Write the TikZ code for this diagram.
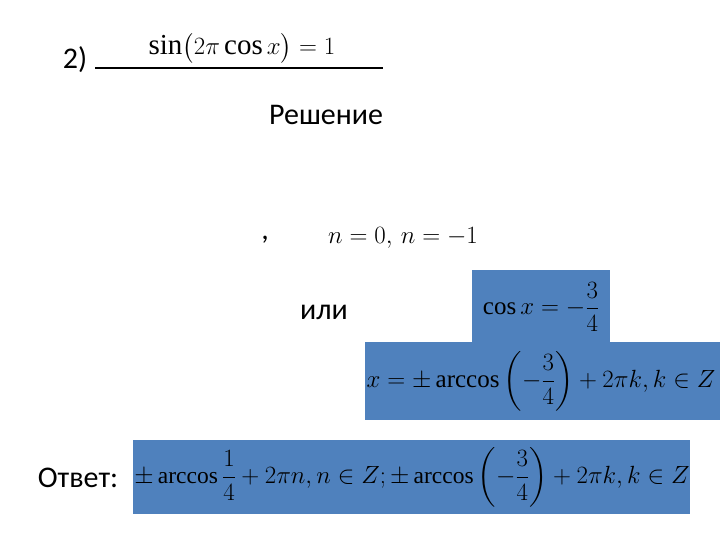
\documentclass[tikz,border=0pt]{standalone}
\usepackage{amsmath}
\usepackage{fontspec}
\setmainfont{Liberation Serif}
\newfontfamily\carlitofont{Carlito}
\begin{document}
\begin{tikzpicture}[x=1pt,y=-1pt]
\tikzset{txt/.style={inner sep=0pt,font=\carlitofont\fontsize{30}{34}\selectfont},
 mth/.style={inner sep=0pt,font=\fontsize{25}{29}\selectfont},
 bluebox/.style={fill={rgb,255:red,79;green,129;blue,189},draw=none}}
\useasboundingbox (0,0) rectangle (720,540);
\node[txt] (t2) at (75,60) {2)};
\coordinate (l1) at (95,68);
\coordinate (l2) at (383,68);
\draw[line width=2pt] (l1) -- (l2);
\node[mth,font=\fontsize{29}{33}\selectfont] (eq) at (242,48) {$\sin\bigl(2\pi\cos x\bigr)=1$};
\node[txt] (sol) at (326,115) {Решение};
\node[txt] (comma) at (265,240) {,};
\node[mth,font=\fontsize{27}{31}\selectfont] (n) at (403,238) {$n=0,\,n=-1$};
\node[txt] (ili) at (324,312) {или};
\fill[bluebox] (472,270) rectangle (610,342);
\node[mth] (c1) at (541,307) {$\cos x=-\dfrac{3}{4}$};
\fill[bluebox] (365,342) rectangle (720,420);
\node[mth] (c2) at (541,381) {$x=\pm\arccos\left(-\dfrac{3}{4}\right)+2\pi k,k\in Z$};
\node[txt] (ans) at (78,478) {Ответ:};
\fill[bluebox] (133,440) rectangle (690,514);
\node[mth,font=\fontsize{23.5}{28}\selectfont] (c3) at (412,477) {$\pm\arccos\dfrac{1}{4}+2\pi n,n\in Z;\pm\arccos\left(-\dfrac{3}{4}\right)+2\pi k,k\in Z$};
\end{tikzpicture}
\end{document}
